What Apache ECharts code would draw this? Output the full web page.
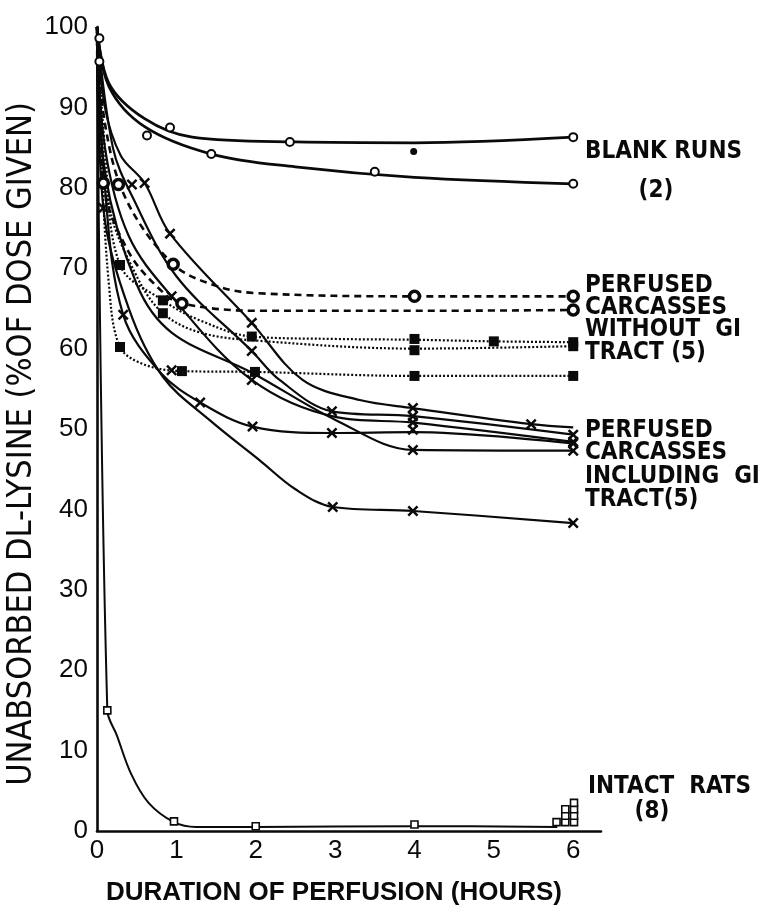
<!DOCTYPE html>
<html><head><meta charset="utf-8">
<script src="https://cdn.jsdelivr.net/npm/echarts/dist/echarts.min.js"></script>
<style>html,body{margin:0;padding:0;background:#fff}#c{width:768px;height:919px}</style>
</head><body><div id="c"></div>
<script>
// ---- axis ticks ----
const xTicks = [0, 1, 2, 3, 4, 5, 6];
const yTicks = [0, 10, 20, 30, 40, 50, 60, 70, 80, 90, 100];

// ---- BLANK RUNS (2) : solid curves, open circles ----
const blankUpperCurve = [[0,100],[0.15,93],[0.6,88.6],[1.2,86.3],[2.5,85.7],[4,85.6],[6,86.3]];
const blankUpperPts   = [[0.03,98.6],[0.92,87.5],[2.43,85.7],[6,86.3]];
const blankUpperDot   = [[3.99,84.5]];
const blankLowerCurve = [[0,100],[0.15,92.6],[0.6,87.6],[1.44,84.2],[2.5,82.6],[4,81.3],[6,80.5]];
const blankLowerPts   = [[0.03,95.7],[0.63,86.5],[1.44,84.2],[3.5,82],[6,80.5]];

// ---- PERFUSED CARCASSES WITHOUT GI TRACT (5) ----
// dashed curves, ringed circles
const woDashACurve = [[0,100],[0.1,88],[0.37,78.5],[0.96,70.5],[1.5,67.8],[2,66.9],[4,66.5],[6,66.5]];
const woDashAPts   = [[0.27,80.4],[0.96,70.5],[4,66.5],[6,66.5]];
const woDashBCurve = [[0,100],[0.08,80.6],[0.4,72],[0.83,67],[1.07,65.6],[2,64.7],[4,64.7],[6,64.8]];
const woDashBPts   = [[0.08,80.6],[1.07,65.6],[6,64.8]];
// dotted curves, filled squares
const woDotC1Curve = [[0,100],[0.1,85],[0.29,70.4],[0.83,66],[1.3,63.5],[1.95,61.5],[3,61.2],[4,61.1],[5,60.9],[6,60.8]];
const woDotC1Pts   = [[0.29,70.4],[0.83,66],[1.95,61.5],[4,61.2],[5,60.9],[6,60.8]];
const woDotC2Curve = [[0,100],[0.15,78],[0.5,69],[0.83,64.4],[1.3,62],[2,61],[4,60],[6,60.3]];
const woDotC2Pts   = [[0.83,64.4],[4,59.8],[6,60.3]];
const woDotDCurve  = [[0,100],[0.05,85],[0.15,68],[0.29,60.2],[0.6,58],[1.07,57.2],[2,57.1],[4,56.6],[6,56.6]];
const woDotDPts    = [[0.29,60.2],[1.07,57.2],[1.99,57.1],[4,56.6],[6,56.6]];

// ---- PERFUSED CARCASSES INCLUDING GI TRACT (5) : solid curves, crosses ----
const gi1Curve = [[0,100],[0.1,90],[0.3,84],[0.6,80.6],[0.92,74.3],[1.95,63.2],[2.59,56.1],[3.31,53.6],[3.98,52.6],[5.47,50.6],[6,50.2]];
const gi1Pts   = [[0.6,80.6],[0.92,74.3],[1.95,63.2],[3.98,52.6],[5.47,50.6]];
const gi2Curve = [[0,100],[0.2,85],[0.44,79],[1,69],[1.95,59.7],[2.3,56.1],[2.96,52.2],[3.98,51.6],[6,49.3]];
const gi2Pts   = [[0.44,80.4],[1.95,59.7],[2.96,52.2],[3.98,51.6],[6,49.3]];
const gi3Curve = [[0,100],[0.1,85],[0.4,74],[0.94,66.5],[1.95,56.1],[3,51.5],[3.98,50.8],[6,48.4]];
const gi3Pts   = [[0.94,66.5],[1.95,56.1],[3.98,50.8],[6,48.4]];
const gi4Curve = [[0,100],[0.1,80],[0.33,64.2],[0.8,57],[1.3,53.3],[1.96,50.3],[2.96,49.5],[3.98,49.6],[6,48.2]];
const gi4Pts   = [[0.33,64.2],[1.3,53.3],[1.96,50.3],[2.96,49.5],[3.98,49.9],[6,48.2]];
const gi5Curve = [[0,100],[0.1,82],[0.5,68],[0.94,62],[1.95,57],[3.01,51.1],[3.98,47.4],[6,47.3]];
const gi5Pts   = [[3.98,47.4],[6,47.3]];
const gi6Curve = [[0,100],[0.08,77.5],[0.4,65],[0.83,56.5],[1.42,51.1],[2.05,46.1],[2.5,42.5],[2.97,40.3],[3.98,39.8],[6,38.3]];
const gi6Pts   = [[0.08,77.5],[0.94,57.3],[2.97,40.3],[3.98,39.8],[6,38.3]];

// ---- INTACT RATS (8) : solid curve, open squares ----
const intactCurve = [[0,100],[0.13,15],[0.25,11.9],[0.43,7.1],[0.65,3.5],[0.97,1.1],[1.25,0.5],[2,0.5],[4,0.6],[5.8,0.5]];
const intactPts   = [[0.13,15],[0.97,1.2],[2,0.6],[4,0.8],
                     [5.79,1.1],[5.9,1.1],[5.9,1.9],[5.9,2.7],[6.01,1.1],[6.01,1.9],[6.01,2.7],[6.01,3.5]];

// ---- text ----
const xTitle = 'DURATION OF PERFUSION (HOURS)';
const yTitle = 'UNABSORBED DL-LYSINE (%OF DOSE GIVEN)';

const INK = '#0a0a0a';
const CROSS = 'path://M0,1.6L1.6,0L5,3.4L8.4,0L10,1.6L6.6,5L10,8.4L8.4,10L5,6.6L1.6,10L0,8.4L3.4,5Z';

function curve(data, type, width) {
  return { type: 'line', data, smooth: 0.35, showSymbol: false, symbol: 'none', z: 2,
           lineStyle: { color: INK, width, type }, silent: true };
}
function marks(data, symbol, size, fill, border) {
  return { type: 'scatter', data, symbol, symbolSize: size, z: 5, silent: true,
           itemStyle: { color: fill, borderColor: INK, borderWidth: border, opacity: 1 } };
}

const series = [
  curve(blankUpperCurve, 'solid', 2.8), marks(blankUpperPts, 'circle', 8, '#fff', 2),
  marks(blankUpperDot, 'circle', 7, INK, 0),
  curve(blankLowerCurve, 'solid', 2.8), marks(blankLowerPts, 'circle', 8, '#fff', 2),

  curve(woDashACurve, [7, 5], 2.6), marks(woDashAPts, 'circle', 10, '#fff', 3.5),
  curve(woDashBCurve, [7, 5], 2.6), marks(woDashBPts, 'circle', 10, '#fff', 3.5),
  curve(woDotC1Curve, [2, 2], 2.2), marks(woDotC1Pts, 'rect', 10, INK, 0),
  curve(woDotC2Curve, [2, 2], 2.2), marks(woDotC2Pts, 'rect', 10, INK, 0),
  curve(woDotDCurve, [2, 2], 2.2), marks(woDotDPts, 'rect', 10, INK, 0),

  curve(gi1Curve, 'solid', 2.2), marks(gi1Pts, CROSS, 11, INK, 0),
  curve(gi2Curve, 'solid', 2.2), marks(gi2Pts, CROSS, 11, INK, 0),
  curve(gi3Curve, 'solid', 2.2), marks(gi3Pts, CROSS, 11, INK, 0),
  curve(gi4Curve, 'solid', 2.2), marks(gi4Pts, CROSS, 11, INK, 0),
  curve(gi5Curve, 'solid', 2.2), marks(gi5Pts, CROSS, 11, INK, 0),
  curve(gi6Curve, 'solid', 2.2), marks(gi6Pts, CROSS, 11, INK, 0),

  curve(intactCurve, 'solid', 2), marks(intactPts, 'rect', 7, '#fff', 1.6)
];

const FONT = '"Liberation Sans", Arial, sans-serif';
const NARROW = '"DejaVu Sans Condensed", "Liberation Sans", sans-serif';
function label(text, x, y, align) {
  return { type: 'text', x, y, silent: true, z: 10,
           style: { text, fill: INK, font: 'bold 24px ' + NARROW, align: align || 'left', verticalAlign: 'middle' } };
}

const chart = echarts.init(document.getElementById('c'), null, { renderer: 'canvas' });
chart.setOption({
  animation: false,
  backgroundColor: '#fff',
  grid: { left: 97, right: 167, top: 27, bottom: 88, containLabel: false },
  xAxis: {
    type: 'value', min: xTicks[0], max: 6.35, interval: 1,
    axisLine: { show: true, onZero: false, lineStyle: { color: INK, width: 2.6 } },
    axisTick: { show: false }, splitLine: { show: false },
    axisLabel: { color: INK, fontSize: 26, fontFamily: FONT, margin: 7,
                 formatter: v => (xTicks.indexOf(v) >= 0 ? String(v) : '') }
  },
  yAxis: {
    type: 'value', min: yTicks[0], max: yTicks[yTicks.length - 1], interval: 10,
    axisLine: { show: true, onZero: false, lineStyle: { color: INK, width: 2.6 } },
    axisTick: { show: false }, splitLine: { show: false },
    axisLabel: { color: INK, fontSize: 26, fontFamily: FONT, margin: 9 }
  },
  graphic: [
    { type: 'text', x: 334, y: 893, silent: true,
      style: { text: xTitle, fill: INK, font: 'bold 26px ' + FONT, align: 'center', verticalAlign: 'middle' } },
    { type: 'text', x: 22, y: 444, rotation: Math.PI / 2, silent: true,
      style: { text: yTitle, fill: INK, font: '34px ' + NARROW, align: 'center', verticalAlign: 'middle' } },
    label('BLANK RUNS', 585, 152), label('(2)', 656, 191, 'center'),
    label('PERFUSED', 585, 286), label('CARCASSES', 585, 308),
    label('WITHOUT  GI', 585, 330), label('TRACT (5)', 585, 353),
    label('PERFUSED', 585, 431), label('CARCASSES', 585, 453),
    label('INCLUDING  GI', 585, 477), label('TRACT(5)', 585, 500),
    label('INTACT  RATS', 588, 787), label('(8)', 652, 812, 'center')
  ],
  series
});
</script></body></html>
